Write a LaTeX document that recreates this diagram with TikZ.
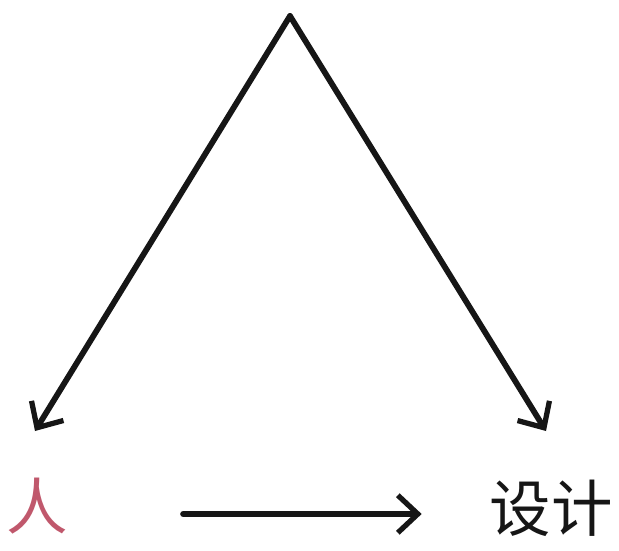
\documentclass[tikz,border=0pt]{standalone}
\usepackage{fontspec}
\newfontfamily\cjk{Noto Sans CJK SC}
\usepackage{xcolor}
\usetikzlibrary{arrows.meta,positioning}
\definecolor{ink}{HTML}{161616}
\definecolor{rose}{HTML}{C0586C}
\tikzset{
  word/.style ={inner sep=0pt, font=\cjk\fontsize{35}{35}\selectfont, text=ink},
  pen/.style  ={-{Straight Barb[length=4mm,width=7.5mm,line width=3pt]}, line width=3.3pt,
                draw=ink, line cap=round, line join=round},
}
\begin{document}
\begin{tikzpicture}[x=0.02cm, y=-0.02cm]
  \useasboundingbox (0,0) rectangle (619,551);
  \node[word, text=rose](ren) at (37,506){人};
  \node[word](sheji) at (551,508){设计};
  % the two sides of the triangle
  \coordinate (apex) at (290,16);
  \coordinate (lend) at (35,431);
  \coordinate (rend) at (546,431);
  \draw[pen] (apex) -- (lend);
  \draw[pen] (apex) -- (rend);
  % bottom arrow
  \draw[pen, shorten <=2.3cm, shorten >=1.35cm]
    ([yshift=-0.16cm]ren.east) -- ([yshift=-0.16cm]ren.east -| sheji.west);
\end{tikzpicture}
\end{document}
